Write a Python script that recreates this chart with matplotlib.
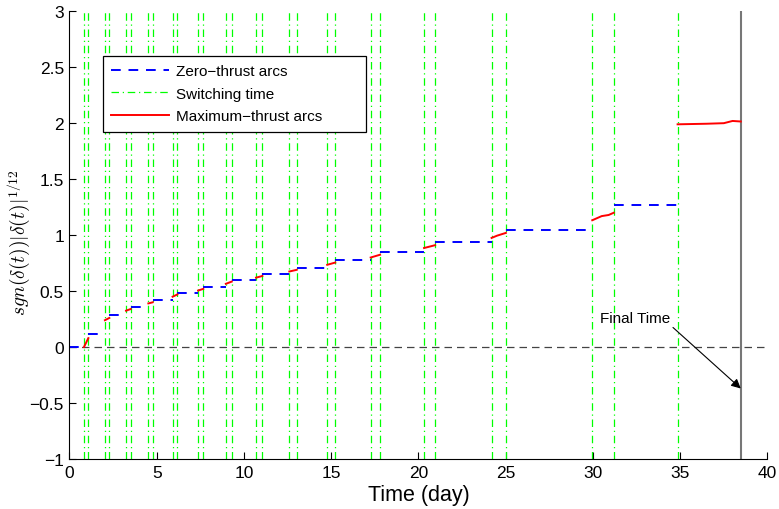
import numpy as np
import matplotlib
matplotlib.use('Agg')
import matplotlib.pyplot as plt

plt.rcParams['font.family'] = ['Liberation Sans', 'DejaVu Sans']
plt.rcParams['mathtext.fontset'] = 'cm'

# instantes de conmutacion (dias)
t_sw = [0.83, 1.08, 2.03, 2.28, 3.24, 3.51, 4.52, 4.77, 5.91, 6.18,
        7.37, 7.67, 8.96, 9.30, 10.69, 11.05, 12.60, 13.02, 14.77, 15.23,
        17.26, 17.80, 20.32, 20.95, 24.19, 25.01, 29.96, 31.19, 34.85]
t_final = 38.47

# arcos de empuje nulo: inicio, fin, nivel
zero_start = [0.0, 1.08, 2.28, 3.51, 4.77, 6.18, 7.67, 9.30, 11.05, 13.02,
              15.23, 17.80, 20.95, 25.01, 31.19]
zero_end = [0.83, 2.03, 3.24, 4.52, 5.91, 7.37, 8.96, 10.69, 12.60, 14.77,
            17.26, 20.32, 24.19, 29.96, 34.85]
zero_level = [0.0, 0.115, 0.285, 0.36, 0.42, 0.485, 0.54, 0.595, 0.65, 0.71,
              0.775, 0.845, 0.935, 1.05, 1.265]

# arcos de empuje maximo (puntos leidos)
max_t = [[0.83, 1.08], [2.03, 2.28], [3.24, 3.51], [4.52, 4.77], [5.91, 6.18],
         [7.37, 7.67], [8.96, 9.30], [10.69, 11.05], [12.60, 13.02], [14.77, 15.23],
         [17.26, 17.80], [20.32, 20.95], [24.19, 24.5, 25.01],
         [29.96, 30.5, 30.9, 31.19],
         [34.85, 36.5, 37.5, 38.0, 38.47]]
max_y = [[0.0, 0.08], [0.24, 0.26], [0.325, 0.34], [0.39, 0.40], [0.45, 0.47],
         [0.505, 0.52], [0.565, 0.585], [0.62, 0.635], [0.675, 0.69], [0.735, 0.755],
         [0.80, 0.825], [0.885, 0.91], [0.975, 0.995, 1.02],
         [1.133, 1.17, 1.18, 1.20],
         [1.99, 1.995, 2.0, 2.02, 2.015]]

fig = plt.figure(figsize=(7.79, 5.10), dpi=100)
ax = fig.add_axes([0.0892, 0.098, 0.896, 0.878])

ax.plot([0, 40], [0, 0], color='#444444', linestyle=(0, (6, 4)), lw=0.9)

for t in t_sw:
    ax.plot([t, t], [-1, 3], color=(0, 1, 0), linestyle=(0, (6, 3, 1, 3)), lw=0.9)
ax.plot([t_final, t_final], [-1, 3], color='#777777', lw=1.5)

for i in range(len(zero_start)):
    ax.plot([zero_start[i], zero_end[i]], [zero_level[i]] * 2, color='blue',
            linestyle=(0, (5, 4)), lw=1.4)

for i in range(len(max_t)):
    ax.plot(max_t[i], max_y[i], color='red', lw=1.4)

# entradas de la leyenda
h1, = ax.plot([], [], color='blue', linestyle=(0, (5, 4)), lw=1.4)
h2, = ax.plot([], [], color=(0, 1, 0), linestyle=(0, (6, 3, 1, 3)), lw=0.9)
h3, = ax.plot([], [], color='red', lw=1.4)
leg = ax.legend([h1, h2, h3], ['Zero\u2212thrust arcs', 'Switching time', 'Maximum\u2212thrust arcs'],
                loc='upper left', bbox_to_anchor=(0.048, 0.9, 0.377, 0.0), mode='expand',
                fontsize=11, fancybox=False, framealpha=1, edgecolor='black',
                handlelength=3.8, handletextpad=0.45, borderpad=0.55, labelspacing=0.55,
                borderaxespad=0)
leg.get_frame().set_linewidth(0.9)

ax.annotate('Final Time', xy=(t_final, -0.37), xytext=(30.4, 0.26), fontsize=11,
            va='center', ha='left',
            arrowprops=dict(arrowstyle='-|>', color='black', lw=0.8,
                            mutation_scale=14, relpos=(1.0, 0.0), shrinkA=0, shrinkB=0))

ax.set_xlim(0, 40)
ax.set_ylim(-1, 3)
ax.set_xticks(np.arange(0, 41, 5))
ax.set_yticks(np.arange(-1, 3.01, 0.5))
ax.set_yticklabels(['\u22121', '\u22120.5', '0', '0.5', '1', '1.5', '2', '2.5', '3'])
ax.spines['top'].set_visible(False)
ax.spines['right'].set_visible(False)
ax.tick_params(direction='in', length=5, labelsize=12.5, pad=4)
ax.set_xlabel('Time (day)', fontsize=15.5, labelpad=3)
ax.set_ylabel(r'$sgn(\delta(t))|\delta(t)|^{1/12}$', fontsize=14)
ax.yaxis.set_label_coords(-0.053, 0.485)

fig.savefig('out.png', dpi=100)
